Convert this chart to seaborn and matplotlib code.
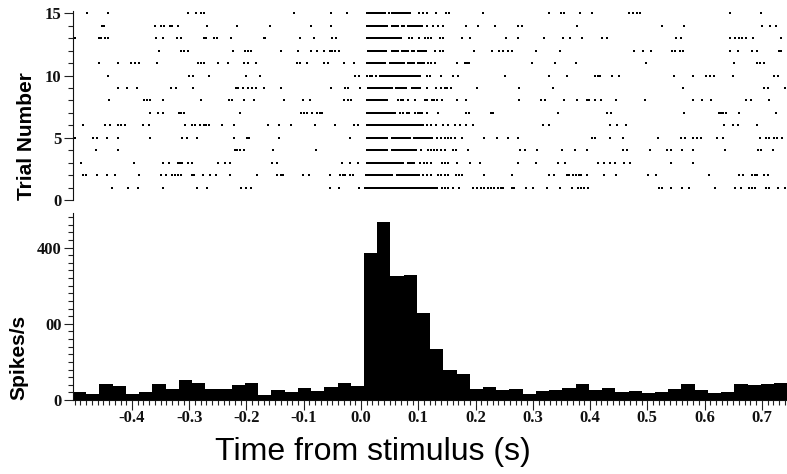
import numpy as np
import pandas as pd
import matplotlib
matplotlib.use("Agg")
import matplotlib.pyplot as plt
from matplotlib.ticker import FixedLocator, FixedFormatter, MultipleLocator
import seaborn as sns

# Spike times (ms, relative to stimulus onset), one list per trial
trial_01 = [-435, -407, -389, -346, -287, -269, -209, -201, -192, -55, -38, -4, 7, 10, 14, 17, 21, 24, 28, 31,
            35, 38, 42, 45, 49, 52, 56, 59, 63, 66, 70, 73, 77, 80, 84, 87, 91, 94, 98, 101, 105, 108, 112, 115,
            119, 122, 126, 129, 133, 141, 147, 152, 161, 172, 196, 202, 209, 215, 221, 227, 233, 239, 244, 248,
            263, 268, 289, 300, 324, 348, 369, 379, 385, 390, 396, 521, 525, 542, 560, 573, 618, 654, 664, 678,
            682, 688, 707, 712, 728, 740]
trial_02 = [-485, -480, -461, -444, -430, -387, -349, -341, -330, -325, -319, -315, -295, -291, -276, -264, -253,
            -228, -181, -146, -140, -136, -102, -90, -55, -37, -32, -28, -19, -14, 9, 12, 16, 19, 23, 26, 30, 33,
            37, 40, 44, 47, 51, 54, 63, 66, 70, 73, 77, 80, 84, 87, 91, 94, 98, 101, 109, 116, 123, 135, 140, 146,
            152, 166, 171, 176, 215, 263, 329, 337, 359, 364, 370, 375, 380, 385, 394, 424, 446, 501, 516, 608,
            660, 668, 683, 688, 692, 704, 710]
trial_03 = [-489, -396, -345, -335, -320, -316, -312, -303, -295, -250, -237, -229, -156, -147, -34, -19, -6, 10,
            14, 17, 21, 24, 28, 31, 35, 38, 42, 45, 49, 52, 56, 59, 63, 66, 70, 73, 82, 86, 89, 92, 103, 110, 115,
            122, 141, 146, 152, 168, 190, 208, 274, 306, 344, 357, 414, 425, 434, 443, 460, 469, 542, 579]
trial_04 = [-462, -424, -220, -216, -211, -204, -153, -79, 10, 14, 17, 21, 24, 28, 31, 35, 38, 42, 45, 54, 58,
            61, 65, 68, 72, 75, 79, 82, 86, 89, 92, 96, 105, 117, 122, 127, 132, 139, 147, 161, 166, 186, 277, 287,
            307, 351, 373, 394, 458, 465, 505, 535, 542, 560, 580, 635, 693, 699, 719]
trial_05 = [-500, -468, -461, -444, -424, -368, -312, -304, -286, -221, -199, -195, -143, -20, 10, 14, 17, 21,
            24, 28, 31, 35, 38, 42, 45, 54, 58, 61, 65, 68, 72, 75, 79, 82, 86, 92, 96, 99, 103, 106, 110, 113,
            117, 120, 124, 133, 140, 146, 152, 158, 164, 177, 214, 237, 257, 274, 404, 409, 435, 458, 518, 558,
            565, 579, 586, 593, 622, 632, 696, 708, 713, 721, 727, 736]
trial_06 = [-486, -447, -438, -425, -419, -412, -381, -371, -307, -295, -290, -282, -275, -270, -265, -242, -222,
            -162, -144, -122, -81, -45, -13, -5, 10, 14, 17, 21, 24, 28, 31, 35, 38, 42, 45, 49, 52, 56, 59, 63,
            66, 70, 73, 77, 80, 84, 87, 91, 94, 98, 101, 105, 108, 115, 122, 131, 144, 152, 164, 173, 184, 195,
            318, 329, 435, 447, 462, 634, 650, 658, 691]
trial_07 = [-369, -354, -346, -318, -314, -310, -211, -105, -99, -95, -86, -76, -72, -68, 10, 14, 17, 21, 24, 28,
            31, 35, 38, 42, 45, 49, 52, 56, 59, 68, 74, 80, 84, 94, 99, 103, 106, 115, 134, 184, 188, 227, 231,
            344, 429, 436, 564, 625, 629, 633, 637, 660, 724]
trial_08 = [-440, -379, -373, -368, -345, -280, -230, -225, -204, -187, -134, -101, -89, -29, -23, -17, 10, 14,
            17, 21, 24, 28, 31, 35, 38, 42, 45, 65, 70, 74, 82, 94, 112, 116, 124, 128, 133, 141, 167, 183, 276,
            315, 321, 354, 378, 394, 398, 408, 419, 445, 496, 580, 596, 612, 673, 681, 712]
trial_09 = [-424, -408, -392, -332, -323, -293, -219, -214, -206, -198, -190, -184, -170, -140, -53, -28, -22, -2,
            12, 16, 19, 23, 26, 30, 33, 37, 40, 44, 47, 51, 54, 61, 65, 68, 72, 75, 79, 89, 92, 96, 99, 103, 115,
            131, 140, 146, 151, 157, 202, 276, 336, 563, 704, 710, 740]
trial_10 = [-442, -301, -294, -265, -201, -177, -10, -4, 10, 15, 19, 27, 33, 37, 40, 44, 47, 51, 54, 58, 61, 65,
            68, 72, 75, 79, 82, 86, 89, 92, 96, 99, 103, 115, 120, 140, 161, 169, 252, 328, 359, 409, 414, 417,
            439, 450, 547, 580, 602, 610, 617, 649, 722, 728]
trial_11 = [-457, -425, -402, -394, -387, -357, -284, -279, -275, -250, -233, -204, -198, -183, -111, -106, -94,
            -64, -57, -29, -12, 10, 14, 17, 21, 24, 28, 31, 35, 38, 42, 51, 54, 58, 61, 65, 68, 72, 75, 82, 86,
            89, 92, 99, 103, 106, 110, 117, 122, 129, 167, 181, 185, 189, 298, 338, 376, 497, 651, 691, 697, 703]
trial_12 = [-352, -314, -309, -303, -223, -203, -198, -192, -140, -110, -87, -76, -65, -55, -51, -45, -38, 12, 16,
            19, 23, 26, 30, 33, 37, 40, 44, 54, 58, 61, 65, 72, 75, 79, 82, 89, 92, 99, 103, 106, 110, 113, 130,
            138, 144, 198, 229, 241, 248, 257, 263, 305, 348, 476, 493, 506, 544, 548, 557, 563, 645, 658, 682,
            691, 730, 734]
trial_13 = [-499, -458, -454, -447, -442, -358, -345, -322, -314, -275, -270, -257, -252, -227, -170, -167, -106,
            -82, -51, -44, 10, 14, 17, 21, 24, 28, 31, 35, 38, 42, 45, 49, 52, 56, 59, 63, 66, 70, 83, 89, 102,
            112, 117, 122, 138, 144, 176, 190, 253, 274, 320, 352, 365, 386, 421, 430, 551, 558, 644, 654, 660,
            665, 672, 684, 734]
trial_14 = [-453, -448, -359, -349, -344, -334, -330, -320, -269, -217, -159, -88, -53, 10, 14, 17, 21, 24, 28,
            31, 35, 38, 42, 45, 54, 58, 61, 65, 72, 75, 82, 86, 89, 92, 96, 99, 103, 106, 115, 126, 135, 144, 184,
            205, 234, 274, 282, 378, 526, 564, 701, 715, 724]
trial_15 = [-478, -442, -303, -288, -280, -275, -117, -53, -24, 10, 14, 17, 21, 24, 28, 31, 35, 38, 42, 49, 54,
            58, 61, 65, 68, 72, 75, 79, 82, 86, 102, 109, 115, 131, 149, 154, 213, 329, 349, 355, 382, 404, 468,
            475, 482, 488, 645, 698]

trials = [trial_01, trial_02, trial_03, trial_04, trial_05, trial_06, trial_07, trial_08,
          trial_09, trial_10, trial_11, trial_12, trial_13, trial_14, trial_15]
trial_numbers = list(range(1, 16))

# Peri-stimulus time histogram: firing rate (spikes/s) per bin
psth_rates = [20.6, 16.2, 42.6, 35.6, 16.0, 20.6, 42.6, 27.7, 53.0, 44.3, 27.7, 27.7, 40.0, 44.3, 11.9, 26.8,
              20.6, 30.3, 23.3, 34.7, 44.3, 37.3, 385.0, 467.0, 325.0, 327.0, 229.0, 135.0, 79.5, 68.0, 28.5,
              33.0, 26.8, 28.5, 14.5, 23.3, 25.9, 31.0, 42.6, 25.9, 30.3, 21.6, 24.2, 17.1, 19.8, 28.5, 42.6,
              25.9, 17.1, 21.6, 42.6, 40.0, 42.6, 45.3]
bin_start = -0.503   # s
bin_width = 0.0231   # s

time_ticks = [-0.4, -0.3, -0.2, -0.1, 0.0, 0.1, 0.2, 0.3, 0.4, 0.5, 0.6, 0.7]
time_tick_labels = ["-0.4", "-0.3", "-0.2", "-0.1", "0.0", "0.1", "0.2", "0.3", "0.4", "0.5", "0.6", "0.7"]
trial_ticks = [0, 5, 10, 15]
trial_tick_labels = ["0", "5", "10", "15"]
rate_ticks = [0, 200, 400]
rate_tick_labels = ["0", "00", "400"]

sns.set_theme(style="ticks")
plt.rcParams.update({
    "font.family": ["Liberation Serif", "DejaVu Serif"],
    "font.weight": "bold",
    "axes.linewidth": 0.8,
    "axes.edgecolor": "#111111",
})

fig = plt.figure(figsize=(7.87, 4.74), dpi=100)
fig.patch.set_facecolor("white")
ax_r = fig.add_axes([73 / 787, 0.578, 714 / 787, 0.398])
ax_h = fig.add_axes([73 / 787, 0.1561, 714 / 787, 0.394])

# Raster: one row of spike marks per trial
raster = pd.DataFrame({
    "time": [t / 1000.0 for tr in trials for t in tr],
    "trial": [n for n, tr in zip(trial_numbers, trials) for _ in tr],
})
sns.scatterplot(data=raster, x="time", y="trial", marker="s", s=2.3, color="black",
                linewidth=0, legend=False, ax=ax_r)

# PSTH drawn as a filled step histogram of per-bin rates
edges = [bin_start + bin_width * i for i in range(len(psth_rates) + 1)]
psth = pd.DataFrame({"time": [e + bin_width / 2 for e in edges[:-1]], "rate": psth_rates})
sns.histplot(data=psth, x="time", weights="rate", bins=edges, element="step", fill=True,
             color="black", alpha=1.0, linewidth=0, ax=ax_h)

xlim = (-0.503, 0.744)
ax_r.set_xlim(*xlim)
ax_h.set_xlim(*xlim)
ax_r.set_ylim(0, 15.15)
ax_h.set_ylim(0, 490)

sns.despine(ax=ax_r, bottom=True)
sns.despine(ax=ax_h)
ax_r.tick_params(axis="x", bottom=False, labelbottom=False)

ax_r.yaxis.set_major_locator(FixedLocator(trial_ticks))
ax_r.yaxis.set_major_formatter(FixedFormatter(trial_tick_labels))
ax_r.yaxis.set_minor_locator(MultipleLocator(1))

ax_h.yaxis.set_major_locator(FixedLocator(rate_ticks))
ax_h.yaxis.set_major_formatter(FixedFormatter(rate_tick_labels))
ax_h.yaxis.set_minor_locator(MultipleLocator(20))
ax_h.xaxis.set_major_locator(FixedLocator(time_ticks))
ax_h.xaxis.set_major_formatter(FixedFormatter(time_tick_labels))
ax_h.xaxis.set_minor_locator(MultipleLocator(0.01))

for ax in (ax_r, ax_h):
    ax.tick_params(which="major", length=6.7, width=0.8, color="#222222", pad=1.5,
                   labelsize=12, labelcolor="#111111")
    ax.tick_params(which="minor", length=3.6, width=0.8, color="#222222")
    ax.set_xlabel("")
    ax.set_ylabel("")

ax_h.tick_params(axis="x", which="major", length=7, pad=0.5)
ax_h.tick_params(axis="x", which="minor", length=3.5)

label_font = dict(family=["Liberation Sans", "DejaVu Sans"], fontweight="bold", fontsize=15, color="black")
ax_r.set_ylabel("Trial Number", loc="bottom", **label_font)
ax_r.yaxis.set_label_coords(-0.0518, 0)
ax_h.set_ylabel("Spikes/s", loc="bottom", **label_font)
ax_h.yaxis.set_label_coords(-0.0625, 0)

ax_h.set_xlabel("Time from stimulus (s)", family=["Liberation Sans", "DejaVu Sans"],
                fontweight="normal", fontsize=23, color="black")
ax_h.xaxis.set_label_coords(0.4206, -0.2)

fig.savefig("out.png", dpi=100, facecolor="white")
